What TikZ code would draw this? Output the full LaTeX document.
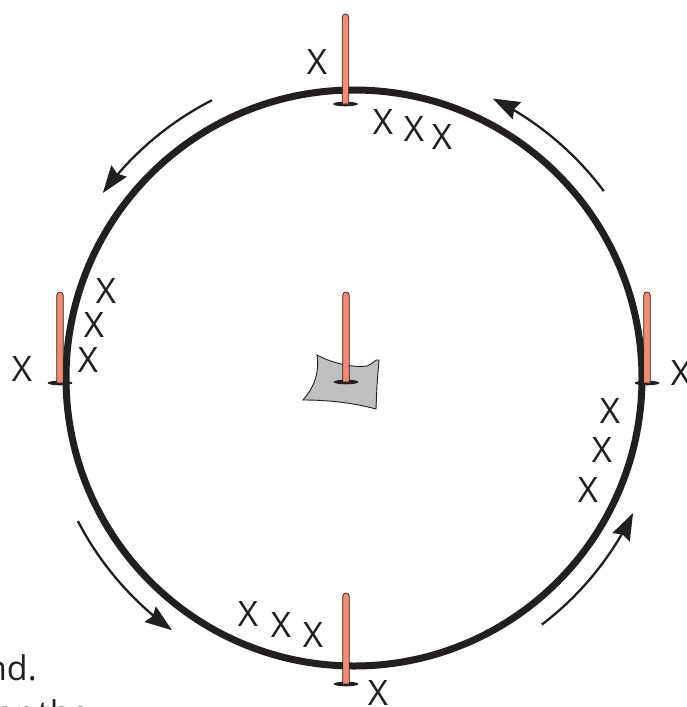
\documentclass[tikz,border=0pt]{standalone}
\usepackage{fontspec}
\setmainfont{Open Sans}
\usetikzlibrary{arrows.meta}
\definecolor{polecol}{RGB}{242,140,110}
\definecolor{clothcol}{RGB}{190,191,193}
\definecolor{ink}{RGB}{35,31,32}
\newcommand{\drawpole}[3]{%
  \fill[ink] (#1,#3) ellipse[x radius=12.5, y radius=2.3];
  \draw[fill=polecol, draw=ink, line width=0.7pt]
    (#1-3.2,#3) -- (#1-3.2,#2+3.2)
    .. controls (#1-3.2,#2-1.07) and (#1+3.2,#2-1.07) .. (#1+3.2,#2+3.2)
    -- (#1+3.2,#3) -- cycle;
}
\begin{document}
\begin{tikzpicture}[x=1pt,y=-1pt,
  xlbl/.style={font=\fontsize{35}{43}\selectfont, inner sep=0pt, text=ink},
  bodytext/.style={font=\fontsize{34}{43}\selectfont, inner sep=0pt, text=ink},
  ring/.style={line width=7pt, draw=ink},
  flow/.style={line width=2.3pt, draw=ink, -{Stealth[length=27pt,width=19pt,inset=3pt]}},
  cloth/.style={fill=clothcol, draw=ink, line width=0.9pt}]
\useasboundingbox (0,0) rectangle (687,707);
\clip (0,0) rectangle (687,707);
\fill[white] (0,0) rectangle (687,707);

% track
\draw[ring] (354,378) circle[radius=288];

% direction arrows
\draw[flow] plot[domain=-117.1:-143.6, samples=40] ({354+312*cos(\x)}, {378+312*sin(\x)});
\draw[flow] plot[domain=-36.8:-63.6, samples=40] ({354+312*cos(\x)}, {378+312*sin(\x)});
\draw[flow] plot[domain=-207.4:-234.2, samples=40] ({354+311*cos(\x)}, {378+311*sin(\x)});
\draw[flow] plot[domain=-307.3:-334.2, samples=40] ({354+310*cos(\x)}, {378+310*sin(\x)});

% centre flag cloth
\draw[cloth] (317,355) .. controls (330,362) and (350,368) .. (367,366)
  .. controls (372,365) and (376,358) .. (379,360)
  -- (377,385) -- (376,409)
  .. controls (350,402) and (325,400) .. (303,400)
  .. controls (312,390) and (320,375) .. cycle;

% poles
\drawpole{345.5}{14}{104}
\drawpole{60}{292}{383}
\drawpole{647}{292}{383}
\drawpole{346}{593}{684}
\drawpole{346}{292}{382}

% X marks
\node[xlbl] (xt)  at (317,62)  {X};
\node[xlbl] (xt1) at (383,122) {X};
\node[xlbl] (xt2) at (414,129) {X};
\node[xlbl] (xt3) at (442,137) {X};
\node[xlbl] (xl)  at (22,369)  {X};
\node[xlbl] (xl1) at (106,291) {X};
\node[xlbl] (xl2) at (94,325)  {X};
\node[xlbl] (xl3) at (88,360)  {X};
\node[xlbl] (xr)  at (681,373) {X};
\node[xlbl] (xr1) at (610,411) {X};
\node[xlbl] (xr2) at (602,450) {X};
\node[xlbl] (xr3) at (588,490) {X};
\node[xlbl] (xb)  at (378,693) {X};
\node[xlbl] (xb1) at (248,614) {X};
\node[xlbl] (xb2) at (281,625) {X};
\node[xlbl] (xb3) at (313,635) {X};

% cut-off body text
\node[bodytext, anchor=base east] (t1) at (37,680) {nd.};
\node[bodytext, anchor=base east] (t2) at (90,725) {n or the};
\end{tikzpicture}
\end{document}
